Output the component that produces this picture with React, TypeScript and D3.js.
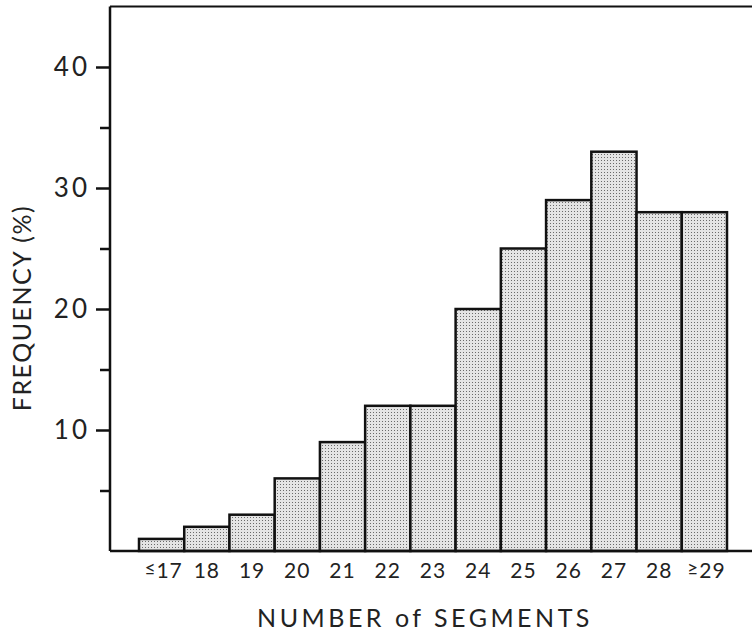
import React, { useEffect, useRef } from 'react';
import * as d3 from 'd3';

// categories on the x axis and the frequency (%) of each
const categories = ['17', '18', '19', '20', '21', '22', '23', '24', '25', '26', '27', '28', '29'];
const frequencies = [1, 2, 3, 6, 9, 12, 12, 20, 25, 29, 33, 28, 28];
const yTicks = [5, 10, 15, 20, 25, 30, 35, 40];

const W = 752;
const H = 633;
const FONT = 'Lato, "DejaVu Sans", sans-serif';

export default function App() {
  const svgRef = useRef<SVGSVGElement>(null);

  useEffect(() => {
    if (!svgRef.current) return;
    const svg = d3.select(svgRef.current);
    svg.selectAll('*').remove();

    const x = d3.scaleBand<string>().domain(categories).range([139, 727]).padding(0);
    const y = d3.scaleLinear().domain([0, 40]).range([551, 67]);
    const axisX = 110;

    // stipple pattern for the bars
    const defs = svg.append('defs');
    const pat = defs.append('pattern')
      .attr('id', 'stipple')
      .attr('patternUnits', 'userSpaceOnUse')
      .attr('width', 3)
      .attr('height', 3);
    pat.append('rect').attr('width', 3).attr('height', 3).attr('fill', '#e4e4e4');
    pat.append('rect').attr('x', 1).attr('y', 1).attr('width', 1).attr('height', 1).attr('fill', '#6a6a6a');

    // bars
    svg.append('g')
      .selectAll('rect')
      .data(frequencies)
      .join('rect')
      .attr('x', (_, i) => x(categories[i])!)
      .attr('y', d => y(d))
      .attr('width', x.bandwidth())
      .attr('height', d => y(0) - y(d))
      .attr('fill', 'url(#stipple)')
      .attr('stroke', '#111')
      .attr('stroke-width', 2.5);

    // frame: top and bottom lines
    svg.append('line')
      .attr('x1', axisX).attr('x2', W)
      .attr('y1', y(45)).attr('y2', y(45))
      .attr('stroke', '#111').attr('stroke-width', 2);
    svg.append('line')
      .attr('x1', axisX).attr('x2', W)
      .attr('y1', y(0)).attr('y2', y(0))
      .attr('stroke', '#111').attr('stroke-width', 2.5);

    // y axis
    const yAxis = d3.axisLeft(y)
      .tickValues(yTicks)
      .tickSize(14)
      .tickPadding(6)
      .tickFormat(d => ((d as number) % 10 === 0 ? String(d) : ''));
    const gy = svg.append('g')
      .attr('transform', `translate(${axisX},0)`)
      .call(yAxis);
    gy.select('.domain')
      .attr('d', `M0,${y(45)}V${y(0)}`)
      .attr('stroke', '#111')
      .attr('stroke-width', 2.5);
    gy.selectAll('.tick line')
      .attr('stroke', '#111')
      .attr('stroke-width', 2.5)
      .attr('x2', d => ((d as number) % 10 === 0 ? -14 : -10));
    gy.selectAll('.tick text')
      .attr('font-family', FONT)
      .attr('font-size', 26)
      .attr('letter-spacing', 3)
      .attr('fill', '#222');

    // x tick labels
    const gx = svg.append('g');
    categories.forEach((c, i) => {
      const edge = i === 0 || i === categories.length - 1;
      const t = gx.append('text')
        .attr('x', x(c)! + x.bandwidth() / 2 + (edge ? 2 : 0))
        .attr('y', 578)
        .attr('text-anchor', 'middle')
        .attr('font-family', FONT)
        .attr('font-size', 21)
        .attr('letter-spacing', 1)
        .attr('fill', '#222');
      if (edge) {
        t.append('tspan')
          .attr('font-size', 19)
          .attr('dy', -3)
          .text(i === 0 ? '≤' : '≥');
        t.append('tspan').attr('dy', 3).text(c);
      } else {
        t.text(c);
      }
    });

    // axis titles
    svg.append('text')
      .attr('x', 425)
      .attr('y', 627)
      .attr('text-anchor', 'middle')
      .attr('font-family', FONT)
      .attr('font-size', 25)
      .attr('letter-spacing', 3.5)
      .attr('fill', '#222')
      .text('NUMBER of SEGMENTS');

    svg.append('text')
      .attr('transform', 'translate(31,308) rotate(-90)')
      .attr('text-anchor', 'middle')
      .attr('font-family', FONT)
      .attr('font-size', 25)
      .attr('letter-spacing', 1.5)
      .attr('fill', '#222')
      .text('FREQUENCY (%)');
  }, []);

  return (
    <svg
      ref={svgRef}
      width={W}
      height={H}
      style={{ position: 'absolute', left: 0, top: 0, background: '#fff' }}
    />
  );
}
